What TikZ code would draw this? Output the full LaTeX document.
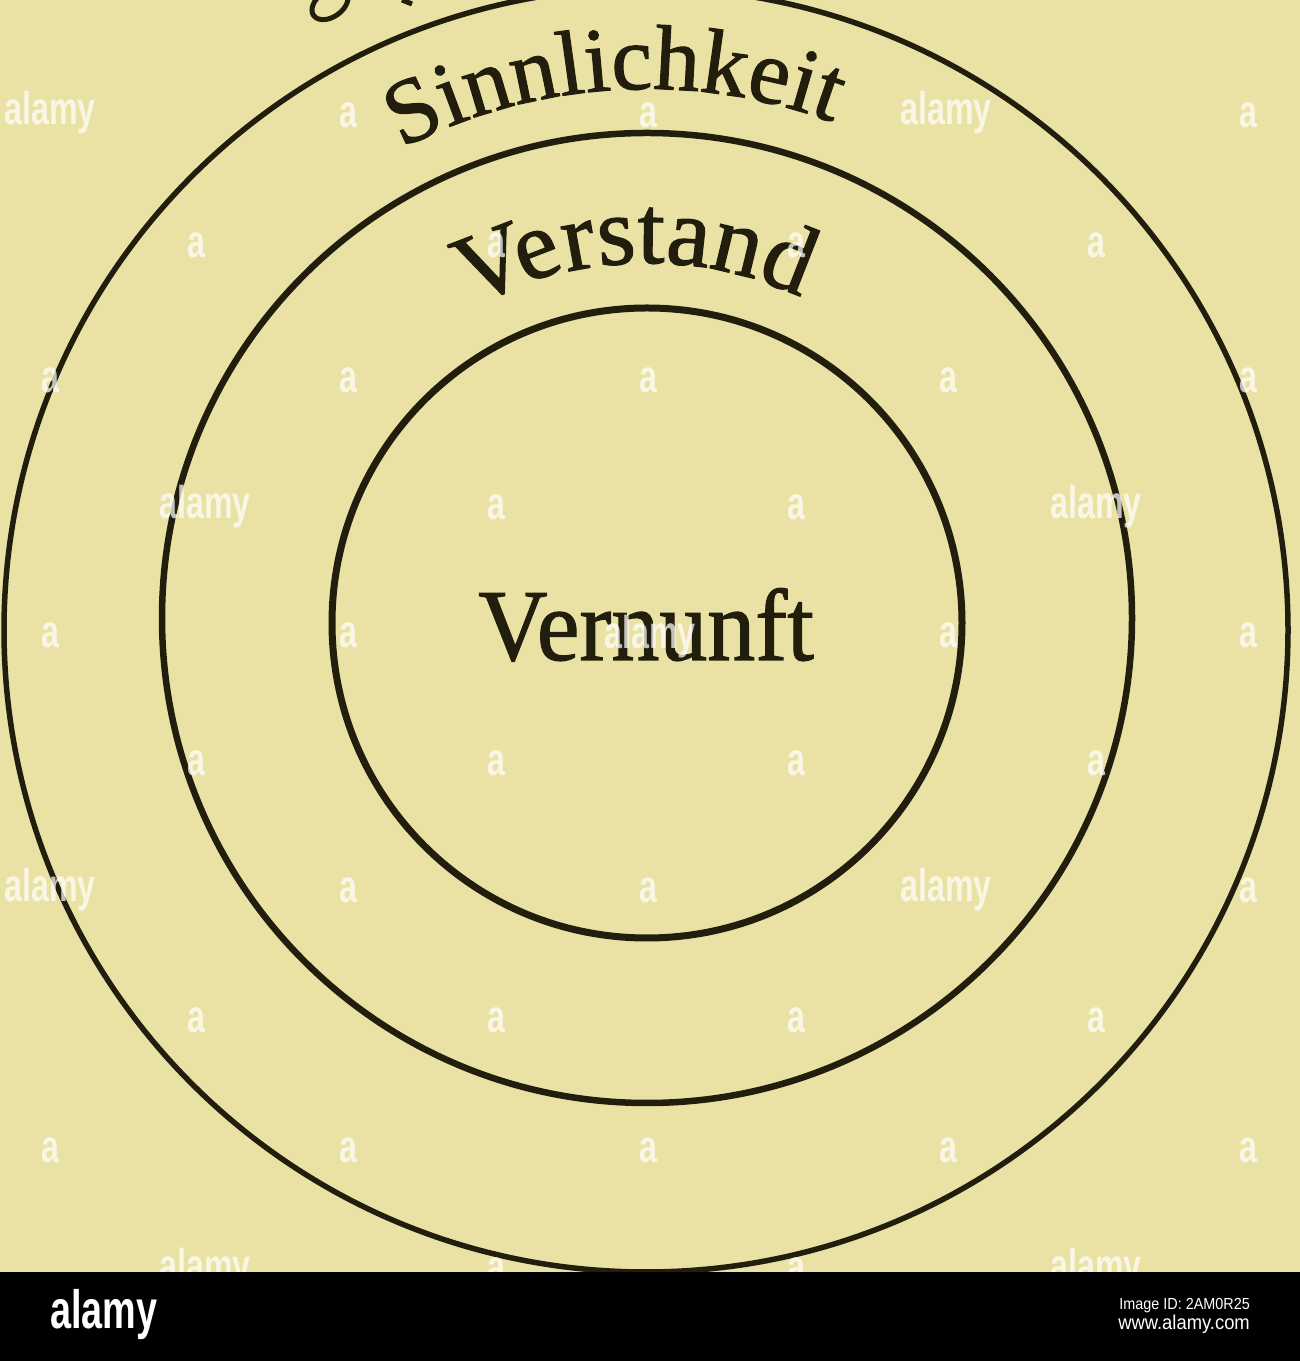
\documentclass[tikz,border=0pt]{standalone}
\usepackage{fontspec}
\setmainfont{Liberation Serif}
\newfontfamily\wmfont{Liberation Sans}
\newfontfamily\labfont[FakeBold=1.2]{Liberation Serif}
\usetikzlibrary{decorations.text}
\definecolor{paper}{RGB}{234,226,164}
\definecolor{ink}{RGB}{34,30,14}
\newcommand\ringfontA{\labfont\fontsize{92}{92}\selectfont}
\newcommand\ringfontB{\labfont\fontsize{98}{98}\selectfont}
\tikzset{
  ring/.style={circle, draw=ink, line width=6pt, inner sep=0pt, outer sep=0pt},
  wm/.style={text=white, text opacity=0.72, inner sep=0pt,
    font=\wmfont\bfseries\fontsize{46}{46}\selectfont, xscale=0.7, transform shape},
}
\begin{document}
\begin{tikzpicture}[x=1pt,y=1pt]
\useasboundingbox (0,0) rectangle (1300,1361);
\fill[paper] (0,0) rectangle (1300,1361);
\begin{scope}
\clip (0,0) rectangle (1300,1361);
% concentric rings
\node[ring, line width=5.5pt, minimum size=1284pt] (outer) at (646,731) {};
\node[ring, line width=6.5pt, minimum size=970pt] (middle) at (647,743) {};
\node[ring, line width=7pt, minimum size=630pt] (inner) at (647,738) {};
\coordinate (c) at (647,738);
% partially visible letters of an outer label (cut off by the top edge)
\draw[ink, line width=5pt, rotate around={35:(330,1357)}] (330,1357) ellipse[x radius=20, y radius=13];
\draw[ink, line width=5pt] (402,1361) -- (412,1357);
% curved labels
\path[decorate, decoration={text along path, text color=ink, text align=center,
  text={|\ringfontA|Sinnlichkeit}}]
  ([shift={(120:534)}]c) arc[start angle=120, end angle=67, radius=534];
\path[decorate, decoration={text along path, text color=ink, text align=center,
  text={|\ringfontB|{Ve}rstand}}]
  ([shift={(128:360)}]c) arc[start angle=128, end angle=56, radius=360];
\node[anchor=base, text=ink, font=\labfont\fontsize{102}{102}\selectfont, xscale=0.94, transform shape]
  (vernunft) at (646,701) {Vernunft};
% watermarks
\foreach \x/\y in {348/1246, 648/1246, 1248/1246,
                   196/1116, 496/1116, 796/1116, 1096/1116,
                   50/981, 348/981, 648/981, 948/981, 1248/981,
                   496/854, 796/854,
                   50/726, 348/726, 948/726, 1248/726,
                   196/598, 496/598, 796/598, 1096/598,
                   348/471, 648/471, 1248/471,
                   196/341, 496/341, 796/341, 1096/341,
                   50/211, 348/211, 648/211, 948/211, 1248/211,
                   496/91, 796/91}
  \node[wm] at (\x,\y) {a};
\foreach \x/\y in {50/1248, 946/1248, 205/854, 1096/854, 650/724, 50/471, 946/471, 205/91, 1096/91}
  \node[wm] at (\x,\y) {alamy};
\end{scope}
% stock-agency band
\fill[black] (0,0) rectangle (1300,89);
\node[anchor=base west, text=white, inner sep=0pt, font=\wmfont\bfseries\fontsize{54}{54}\selectfont,
  xscale=0.7, transform shape] (logo) at (50,32) {alamy};
\node[anchor=base east, text=white, inner sep=0pt, font=\wmfont\fontsize{16}{16}\selectfont,
  xscale=0.9, transform shape] (imgid) at (1250,51) {Image ID: 2AM0R25};
\node[anchor=base east, text=white, inner sep=0pt, font=\wmfont\fontsize{20}{20}\selectfont,
  xscale=0.92, transform shape] (url) at (1250,31) {www.alamy.com};
\end{tikzpicture}
\end{document}
